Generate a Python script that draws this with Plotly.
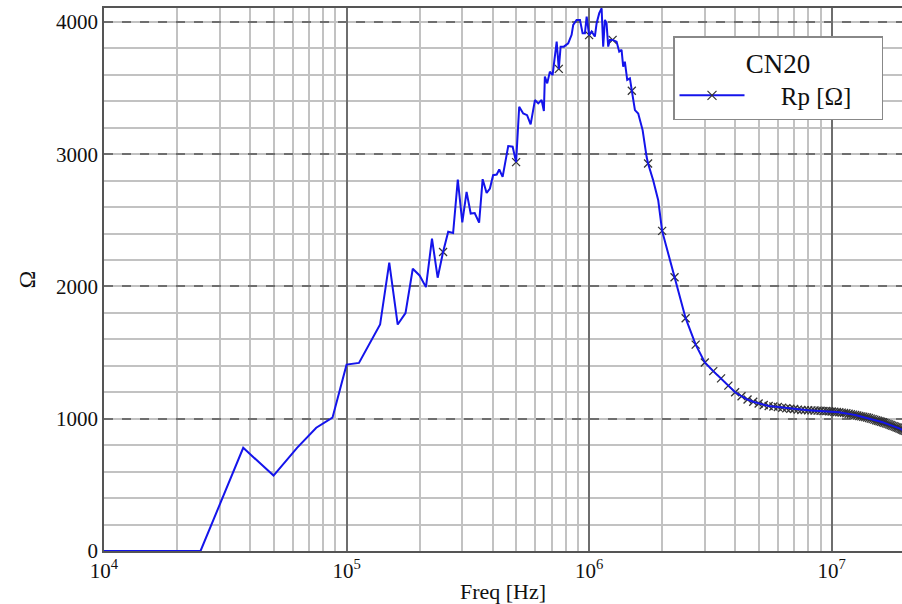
import plotly.graph_objects as go

# Noisy low/mid-frequency readings (Hz, Ohm)
LOW_FREQ_HZ = [10000, 12500, 25000, 37500, 50000, 62500, 75000, 87500, 100000, 112500,
               125000, 137500, 150000, 162500, 175000, 187500, 200000, 212500, 225000, 237500,
               250000, 262500, 275000, 287500, 300000, 312500, 325000, 337500, 352000, 364000,
               378000, 390000, 402000, 416000, 426000, 440000, 464000, 484000, 500000, 515000,
               535000, 555000, 574000, 598000, 617000, 637000, 651000, 657000, 672000, 689000,
               707000, 735000, 750000, 763000, 787000, 820000, 847000, 860000, 888000, 917000,
               940000, 961000, 977000, 1000000, 1024000, 1056000, 1074000, 1101000, 1126000, 1143000,
               1162000, 1180000, 1199000, 1218000, 1250000, 1298000, 1331000, 1361000, 1382000, 1404000,
               1436000, 1473000, 1500000, 1520000, 1545000, 1594000, 1662000, 1726000, 1750000, 1837000,
               1927000]
LOW_RP = [0, 0, 0, 780, 570, 780, 932, 1008, 1409, 1422,
          1578, 1712, 2180, 1712, 1798, 2134, 2083, 1995, 2361, 2066,
          2260, 2414, 2404, 2807, 2485, 2715, 2551, 2555, 2482, 2811,
          2707, 2740, 2841, 2846, 2884, 2828, 3061, 3056, 2940, 3358,
          3308, 3295, 3225, 3409, 3384, 3409, 3326, 3586, 3535, 3624,
          3598, 3851, 3645, 3813, 3813, 3838, 3902, 3977, 4015, 4015,
          3914, 3914, 4040, 3900, 3927, 3889, 3990, 4066, 4103, 3813,
          4015, 3990, 3813, 3864, 3864, 3851, 3775, 3788, 3662, 3699,
          3561, 3573, 3480, 3409, 3333, 3308, 3182, 2980, 2930, 2803,
          2652]

# Marked sample points (every 250 kHz), MHz and Ohm
MARK_FREQ_MHZ = [0.25, 0.5, 0.75, 1.0, 1.25, 1.5, 1.75, 2.0, 2.25, 2.5,
                 2.75, 3.0, 3.25, 3.5, 3.75, 4.0, 4.25, 4.5, 4.75, 5.0,
                 5.25, 5.5, 5.75, 6.0, 6.25, 6.5, 6.75, 7.0, 7.25, 7.5,
                 7.75, 8.0, 8.25, 8.5, 8.75, 9.0, 9.25, 9.5, 9.75, 10.0,
                 10.25, 10.5, 10.75, 11.0, 11.25, 11.5, 11.75, 12.0, 12.25, 12.5,
                 12.75, 13.0, 13.25, 13.5, 13.75, 14.0, 14.25, 14.5, 14.75, 15.0,
                 15.25, 15.5, 15.75, 16.0, 16.25, 16.5, 16.75, 17.0, 17.25, 17.5,
                 17.75, 18.0, 18.25, 18.5, 18.75, 19.0, 19.25, 19.5, 19.75, 20.0]
MARK_RP = [2260, 2940, 3645, 3900, 3864, 3480, 2930, 2420, 2070, 1760,
           1560, 1425, 1360, 1305, 1250, 1200, 1170, 1145, 1128, 1115,
           1104, 1096, 1092, 1088, 1083, 1079, 1076, 1073, 1069, 1066,
           1065, 1064, 1063, 1062, 1061, 1060, 1059, 1058, 1057, 1055,
           1053, 1051, 1049, 1046, 1044, 1041, 1038, 1034, 1031, 1028,
           1024, 1021, 1018, 1015, 1012, 1009, 1005, 1001, 997, 993,
           989, 985, 981, 977, 973, 969, 965, 961, 957, 952,
           948, 944, 940, 936, 932, 927, 922, 918, 913, 908]

X_TICKS = [1e4, 1e5, 1e6, 1e7]
X_TICKTEXT = ["10<sup>4</sup>", "10<sup>5</sup>", "10<sup>6</sup>", "10<sup>7</sup>"]
Y_TICKS = [0, 1000, 2000, 3000, 4000]

mark_hz = [m * 1e6 for m in MARK_FREQ_MHZ]
line_x = LOW_FREQ_HZ + [f for f in mark_hz if f >= 2.0e6]
line_y = LOW_RP + [r for f, r in zip(mark_hz, MARK_RP) if f >= 2.0e6]

BLUE = "rgb(20,20,235)"
MK = "#333333"
FONT = "Liberation Serif"
NB = "\u00a0"

fig = go.Figure()
fig.add_trace(go.Scatter(x=mark_hz, y=MARK_RP, mode="markers", showlegend=False,
                         marker=dict(symbol="x-thin", size=8, color=MK,
                                     line=dict(width=1.3, color=MK))))
fig.add_trace(go.Scatter(x=line_x, y=line_y, mode="lines", showlegend=False,
                         line=dict(color=BLUE, width=2)))
fig.add_trace(go.Scatter(x=[None], y=[None], mode="lines+markers",
                         name=NB * 5 + "Rp [Ω]" + NB * 4,
                         line=dict(color=BLUE, width=2),
                         marker=dict(symbol="x-thin", size=9, color=MK,
                                     line=dict(width=1.2, color=MK))))

fig.update_layout(
    width=902, height=604, autosize=False,
    margin=dict(l=104, r=0, t=8, b=53),
    paper_bgcolor="white", plot_bgcolor="white",
    font=dict(family=FONT, color="#111"),
    xaxis=dict(type="log", range=[4, 7.29], automargin=False,
               tickvals=X_TICKS, ticktext=X_TICKTEXT, ticks="",
               tickfont=dict(size=21, family=FONT, color="#111"),
               showgrid=True, gridcolor="#6e6e6e", gridwidth=1.5,
               minor=dict(dtick="D1", showgrid=True, gridcolor="#c2c2c2", gridwidth=1.5,
                          griddash="solid", ticks=""),
               showline=True, linecolor="#555", linewidth=1.5, mirror=True,
               zeroline=False,
               title=dict(text="Freq [Hz]", font=dict(size=22, family=FONT), standoff=2)),
    yaxis=dict(range=[0, 4105], tickvals=Y_TICKS, ticks="", automargin=False,
               tickfont=dict(size=21, family=FONT, color="#111"),
               showgrid=True, gridcolor="#6e6e6e", gridwidth=1.5, griddash="dash",
               minor=dict(dtick=200, showgrid=True, gridcolor="#c2c2c2", gridwidth=1.5,
                          griddash="solid", ticks=""),
               showline=True, linecolor="#555", linewidth=1.5, mirror=True,
               zeroline=False,
               title=dict(text="Ω", font=dict(size=24, family=FONT), standoff=14)),
    legend=dict(x=(673 - 104) / 798, y=(551 - 36) / 543, xanchor="left", yanchor="top",
                bgcolor="white", bordercolor="#888", borderwidth=1.5,
                font=dict(size=25, family=FONT, color="#111"),
                title=dict(text="CN20", side="top center", font=dict(size=27, family=FONT)),
                itemwidth=65),
)

fig.write_html("out.html", config={"displayModeBar": False},
               post_script="document.body.style.margin='0';")
